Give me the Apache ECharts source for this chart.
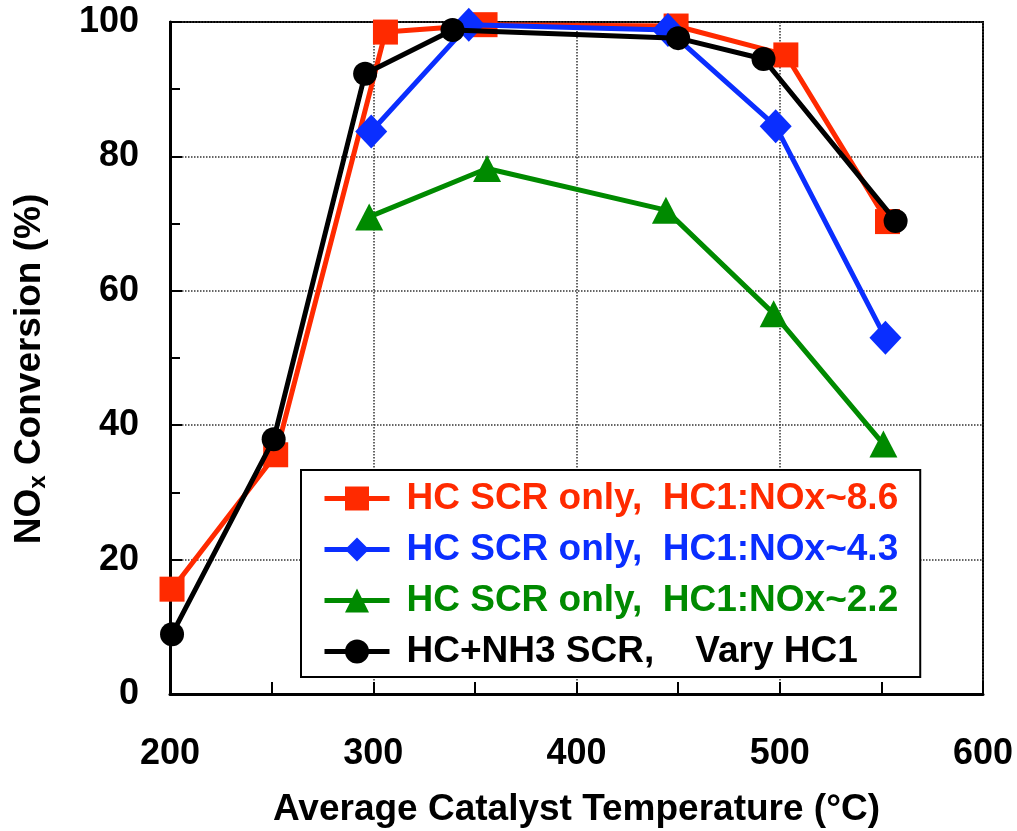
<!DOCTYPE html>
<html>
<head>
<meta charset="utf-8">
<script src="https://cdn.jsdelivr.net/npm/echarts@6/dist/echarts.min.js"></script>
<style>
html, body { margin: 0; padding: 0; background: #fff; }
#chart { width: 1017px; height: 831px; }
</style>
</head>
<body>
<div id="chart"></div>
<script>
// series data: [temperature, conversion]
var hcScr86 = [[201, 15.6], [252, 35.6], [306, 98.5], [355, 99.6], [449, 99.4], [503, 95.1], [553, 70.3]];
var hcScr43 = [[299, 83.7], [347, 99.6], [445, 98.8], [498, 84.5], [552, 53.0]];
var hcScr22 = [[298, 71.0], [356, 78.2], [444, 72.0], [497, 56.6], [551, 37.2]];
var hcNh3 = [[201, 8.9], [251, 37.9], [296, 92.3], [339, 98.8], [450, 97.6], [492, 94.5], [557, 70.4]];

var seriesNames = [
    'HC SCR only,  HC1:NOx~8.6',
    'HC SCR only,  HC1:NOx~4.3',
    'HC SCR only,  HC1:NOx~2.2',
    'HC+NH3 SCR,    Vary HC1'
];
var seriesColors = ['#ff2a00', '#0a2eff', '#008a00', '#000000'];
var seriesSymbols = ['rect', 'diamond', 'triangle', 'circle'];
var seriesSizes = [25, [32, 34], [28, 27], 24];
var seriesZ = [3, 4, 2, 5];
var seriesData = [hcScr86, hcScr43, hcScr22, hcNh3];

var chart = echarts.init(document.getElementById('chart'));

var series = [];
for (var i = 0; i < seriesData.length; i++) {
    series.push({
        name: seriesNames[i],
        type: 'line',
        data: seriesData[i],
        symbol: seriesSymbols[i],
        symbolSize: seriesSizes[i],
        lineStyle: {color: seriesColors[i], width: 5},
        itemStyle: {color: seriesColors[i]},
        z: seriesZ[i]
    });
}

var legendData = seriesNames.map(function (n, i) {
    return {name: n, textStyle: {color: seriesColors[i]}};
});

chart.setOption({
    animation: false,
    textStyle: {fontFamily: 'Liberation Sans', fontWeight: 'bold'},
    grid: {
        left: 170, right: 34, top: 22, bottom: 137,
        outerBoundsMode: 'none',
        show: true, borderColor: '#000', borderWidth: 2
    },
    legend: {
        orient: 'vertical',
        left: 301,
        top: 470,
        backgroundColor: '#fff',
        borderColor: '#000',
        borderWidth: 2,
        padding: [10, 22, 7, 21],
        itemWidth: 65,
        itemHeight: 30,
        itemGap: 14,
        z: 8,
        lineStyle: {width: 5},
        textStyle: {fontSize: 37, fontWeight: 'bold', fontFamily: 'Liberation Sans', padding: [0, 0, 0, 12]},
        data: legendData
    },
    xAxis: {
        type: 'value',
        min: 200,
        max: 600,
        interval: 100,
        name: 'Average Catalyst Temperature (°C)',
        nameLocation: 'middle',
        nameGap: 97,
        nameTextStyle: {fontSize: 37, fontWeight: 'bold', color: '#000', fontFamily: 'Liberation Sans'},
        axisLine: {lineStyle: {color: '#000', width: 3}},
        axisTick: {inside: true, length: 12, lineStyle: {width: 2, color: '#000'}},
        minorTick: {show: true, splitNumber: 2, length: 12, lineStyle: {width: 2, color: '#000'}},
        axisLabel: {fontSize: 36, color: '#000', margin: 42, fontWeight: 'bold'},
        splitLine: {show: true, lineStyle: {type: 'dotted', color: '#333', width: 1.5}}
    },
    yAxis: {
        type: 'value',
        min: 0,
        max: 100,
        interval: 20,
        name: '{a|NO}{b|x}{a| Conversion (%)}',
        nameLocation: 'middle',
        nameGap: 120,
        nameTextStyle: {
            color: '#000',
            padding: [0, 22, 0, 0],
            rich: {
                a: {fontSize: 37, fontWeight: 'bold', color: '#000', fontFamily: 'Liberation Sans'},
                b: {fontSize: 24, fontWeight: 'bold', color: '#000', fontFamily: 'Liberation Sans', verticalAlign: 'bottom', padding: [16, 0, 0, 0]}
            }
        },
        axisLine: {lineStyle: {color: '#000', width: 3}},
        axisTick: {inside: true, length: 12, lineStyle: {width: 2, color: '#000'}},
        minorTick: {show: true, splitNumber: 2, length: 10, lineStyle: {width: 2, color: '#000'}},
        axisLabel: {fontSize: 36, color: '#000', margin: 31, fontWeight: 'bold'},
        splitLine: {show: true, lineStyle: {type: 'dotted', color: '#333', width: 1.5}}
    },
    series: series
});
</script>
</body>
</html>
